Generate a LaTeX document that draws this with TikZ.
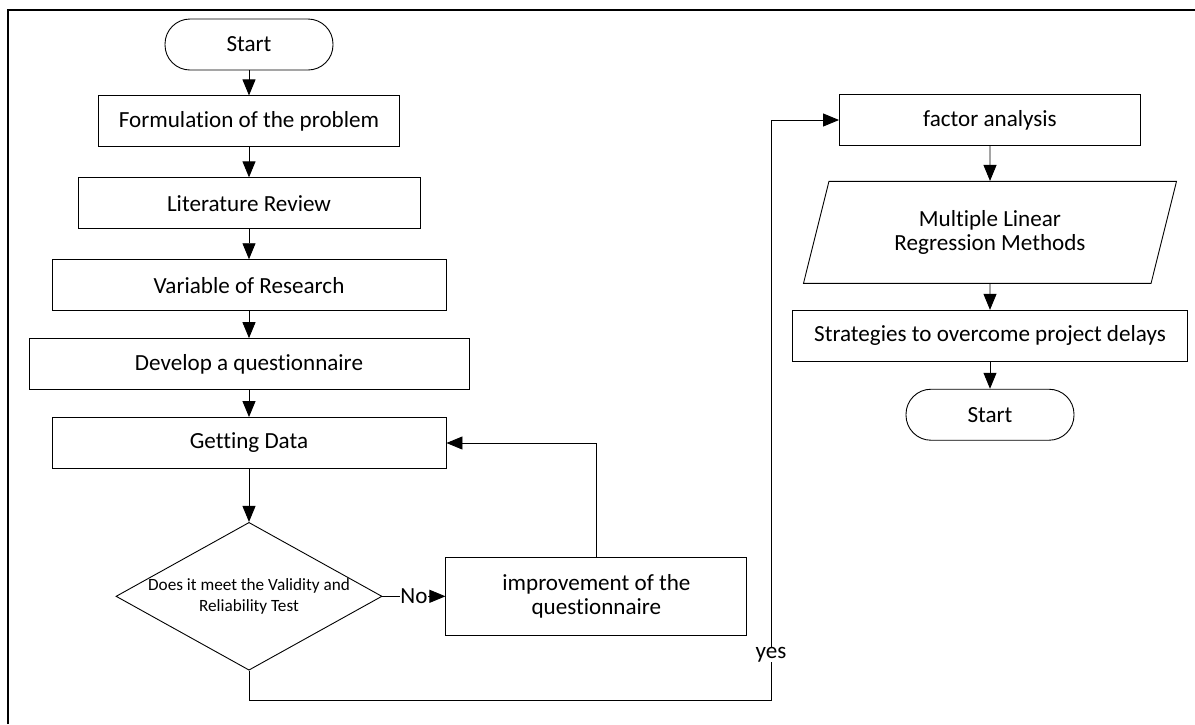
\documentclass[tikz,border=0pt]{standalone}
\usepackage{fontspec}
\setmainfont{Carlito}[Ligatures=NoCommon]
\usepackage{tikz}
\usetikzlibrary{shapes.geometric, arrows.meta, positioning, calc}

\begin{document}
\begin{tikzpicture}[
    x=1pt, y=1pt,
    base/.style={draw, line width=0.9pt, align=center, font=\fontsize{23.1}{24.8}\selectfont},
    terminal/.style={base, rectangle, rounded corners=25pt, minimum width=168pt, minimum height=51pt},
    block/.style={base, rectangle, minimum height=51pt},
    decision/.style={base, diamond, aspect=1.8, inner sep=0pt, minimum width=265pt, minimum height=147pt, font=\fontsize{17.2}{21}\selectfont},
    inout/.style={base, trapezium, trapezium left angle=63.7, trapezium right angle=116.3, trapezium stretches body, minimum width=373pt, minimum height=102pt},
    arrow/.style={-{Triangle[length=16pt, width=13pt]}, line width=0.9pt},
    lbl/.style={fill=white, inner sep=0pt, font=\fontsize{23.1}{24.8}\selectfont},
    node distance=27pt
]
\useasboundingbox (0,0) rectangle (1195,-724);

% Frame
\draw[line width=1.8pt] (8,-724) -- (8,-10) -- (1195,-10);

% Left column
\node[terminal] (start) at (249,-44.5) {Start};
\node[block, minimum width=301pt, below=25pt of start] (form) {Formulation of the problem};
\node[block, minimum width=342pt, below=30pt of form] (lit) {Literature Review};
\node[block, minimum width=394pt, below=30pt of lit] (var) {Variable of Research};
\node[block, minimum width=440pt, below=of var] (dev) {Develop a questionnaire};
\node[block, minimum width=394pt, below=of dev] (data) {Getting Data};
\node[decision, below=53pt of data] (test) {Does it meet the Validity and\\Reliability Test};
\node[block, minimum width=301pt, minimum height=78pt, right=63pt of test] (impr) {improvement of the\\questionnaire};

% Right column
\node[block, minimum width=301pt] (factor) at (990,-120) {factor analysis};
\node[inout, below=35pt of factor] (mlr) {Multiple Linear\\Regression Methods};
\node[block, minimum width=395pt, below=26pt of mlr] (strat) {Strategies to overcome project delays};
\node[terminal, below=of strat] (stop) {Start};

% Arrows
\draw[arrow] (start) -- (form);
\draw[arrow] (form) -- (lit);
\draw[arrow] (lit) -- (var);
\draw[arrow] (var) -- (dev);
\draw[arrow] (dev) -- (data);
\draw[arrow] (data) -- (test);
\draw[arrow] (test) -- node[lbl] {No} (impr);
\draw[arrow] (impr.north) |- (data.east);

\coordinate (yesturn) at (771,-700);
\draw[arrow] (test.south) |- (yesturn) |- node[lbl, pos=0.039] {yes} (factor.west);

\draw[arrow] (factor) -- (mlr);
\draw[arrow] (mlr) -- (strat);
\draw[arrow] (strat) -- (stop);

\end{tikzpicture}
\end{document}
